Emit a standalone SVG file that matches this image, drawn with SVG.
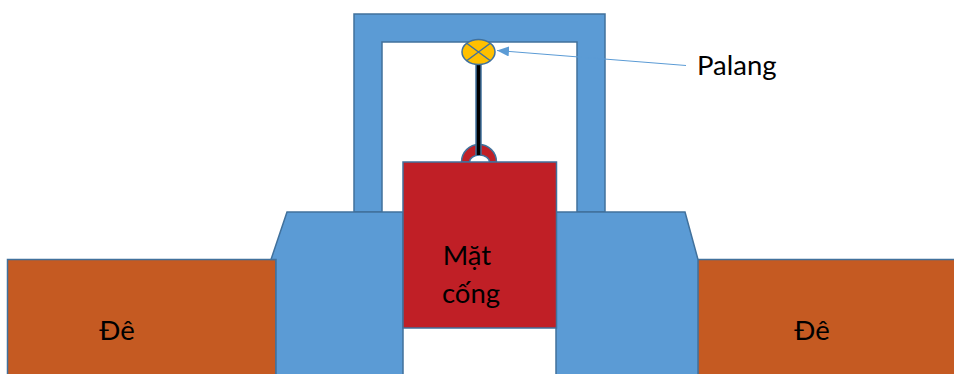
<svg xmlns="http://www.w3.org/2000/svg" width="954" height="374" viewBox="0 0 954 374">
<style>
.s{stroke:#41719c;stroke-width:1.5}
.b{fill:#5b9bd5}
.o{fill:#c55a22}
.r{fill:#c01f26}
.t{font-family:Lato,"Open Sans","Liberation Sans",sans-serif;font-size:27.500px;fill:#000}
</style>
<defs><marker id="a" markerWidth="13" markerHeight="10" refX="12" refY="5" orient="auto" markerUnits="userSpaceOnUse"><path d="M0 0L12 5L0 10Z" fill="#5b9bd5"/></marker></defs>
<rect width="954" height="374" fill="#fff"/>
<g id="frame"><path class="b s" d="M354 212V14H605V212H577V42H382V212Z"/></g>
<g id="de-left"><rect class="o s" x="7.500" y="259.500" width="268.500" height="116"/><text class="t" x="117" y="340" text-anchor="middle">Đê</text></g>
<g id="de-right"><rect class="o s" x="697.500" y="259.500" width="258" height="116"/><text class="t" x="812" y="340" text-anchor="middle">Đê</text></g>
<g id="pier-left"><path class="b s" d="M403 375V212H287L271 259.500H276V375Z"/></g>
<g id="pier-right"><path class="b s" d="M556 375V212H685L698 259.500V375Z"/></g>
<g id="hook"><path class="r s" d="M461.500 162A17.500 17.500 0 0 1 496.500 162H489.500A10 7 0 0 0 469.500 162Z"/></g>
<g id="mat-cong"><rect class="r s" x="403" y="162" width="153.500" height="166"/><text class="t" x="467" y="265" text-anchor="middle">Mặt</text><text class="t" x="471" y="303" text-anchor="middle">cống</text></g>
<g id="connectors"><line x1="478.500" y1="62" x2="478.500" y2="155" stroke="#41719c" stroke-width="6.500"/><line x1="478.500" y1="62" x2="478.500" y2="155" stroke="#000" stroke-width="3.500"/><path d="M686 65.500L497 50.500" fill="none" stroke="#5b9bd5" stroke-width="1" marker-end="url(#a)"/></g>
<g id="palang"><ellipse cx="478.500" cy="52" rx="16.500" ry="12.500" class="s" style="fill:#ffc000"/><path d="M467 43.500L490 60.500M490 43.500L467 60.500" fill="none" class="s"/><text class="t" x="697" y="75">Palang</text></g>
</svg>
